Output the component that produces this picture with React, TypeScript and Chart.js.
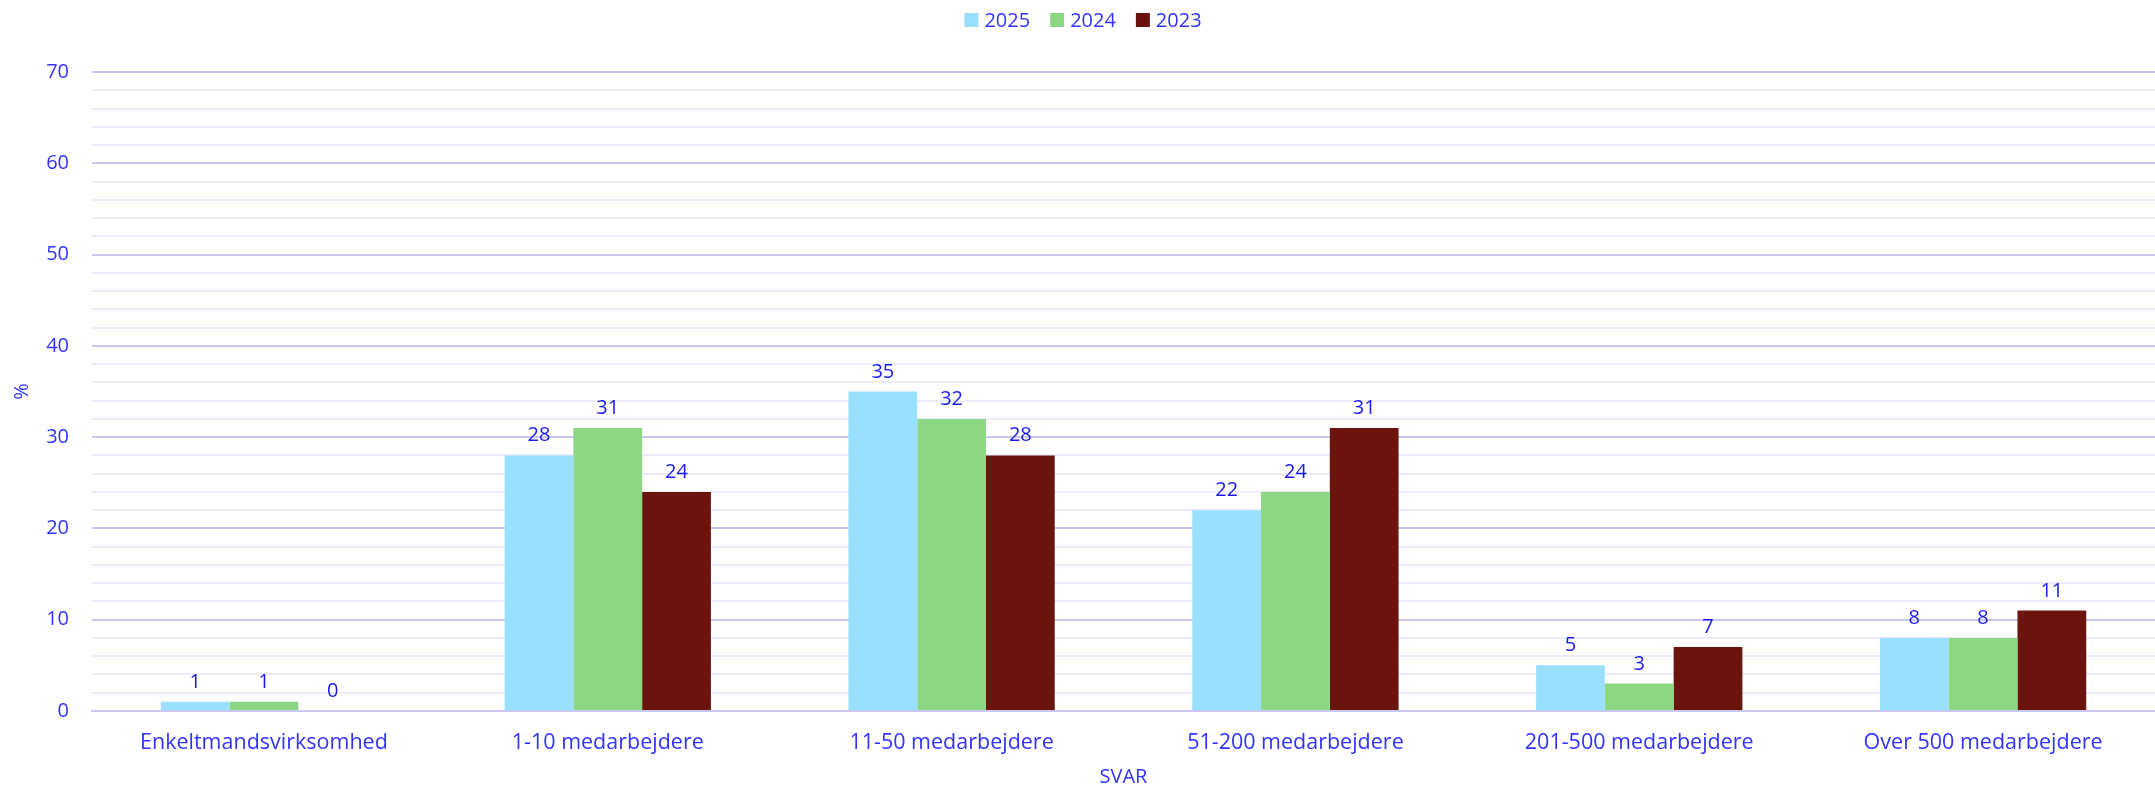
import React, { useEffect, useRef } from "react";
import { Chart, registerables } from "chart.js";

Chart.register(...registerables);

const categories = [
  "Enkeltmandsvirksomhed",
  "1-10 medarbejdere",
  "11-50 medarbejdere",
  "51-200 medarbejdere",
  "201-500 medarbejdere",
  "Over 500 medarbejdere",
];
const values2025 = [1, 28, 35, 22, 5, 8];
const values2024 = [1, 31, 32, 24, 3, 8];
const values2023 = [0, 24, 28, 31, 7, 11];
const seriesLabels = ["2025", "2024", "2023"];
const seriesColors = ["#99e0ff", "#8dd784", "#6b140d"];

const FONT = "'Open Sans', sans-serif";
const TEXT = "#3333ff";

const valueLabels = {
  id: "valueLabels",
  afterDatasetsDraw(chart: any) {
    const ctx = chart.ctx;
    ctx.save();
    ctx.font = `20px ${FONT}`;
    ctx.fillStyle = "#1a1aee";
    ctx.textAlign = "center";
    ctx.textBaseline = "alphabetic";
    chart.data.datasets.forEach((ds: any, i: number) => {
      const meta = chart.getDatasetMeta(i);
      meta.data.forEach((bar: any, j: number) => {
        ctx.fillText(String(ds.data[j]), bar.x, bar.y - 14);
      });
    });
    ctx.restore();
  },
};

const topLegend = {
  id: "topLegend",
  afterDraw(chart: any) {
    const ctx = chart.ctx;
    ctx.save();
    ctx.font = `20px ${FONT}`;
    ctx.textBaseline = "middle";
    ctx.textAlign = "left";
    const box = 14, gapText = 6, gapItem = 20;
    const widths = seriesLabels.map((l) => box + gapText + ctx.measureText(l).width);
    const total = widths.reduce((a, b) => a + b, 0) + gapItem * (seriesLabels.length - 1);
    let x = 1083 - total / 2;
    const cy = 20;
    seriesLabels.forEach((l, i) => {
      ctx.fillStyle = seriesColors[i];
      ctx.fillRect(x, cy - box / 2, box, box);
      ctx.fillStyle = TEXT;
      ctx.fillText(l, x + box + gapText, cy + 1);
      x += widths[i] + gapItem;
    });
    ctx.restore();
  },
};

export default function App() {
  const ref = useRef<HTMLCanvasElement>(null);
  useEffect(() => {
    document.body.style.margin = "0";
    const chart = new Chart(ref.current!, {
      type: "bar",
      data: {
        labels: categories,
        datasets: [values2025, values2024, values2023].map((d, i) => ({
          label: seriesLabels[i],
          data: d,
          backgroundColor: seriesColors[i],
          categoryPercentage: 0.6,
          barPercentage: 1.0,
        })),
      },
      options: {
        animation: false,
        responsive: false,
        maintainAspectRatio: false,
        layout: { padding: { top: 72, right: 0, left: 0, bottom: 0 } },
        plugins: {
          legend: { display: false },
          tooltip: { enabled: false },
        },
        scales: {
          x: {
            grid: { display: false, drawTicks: false },
            border: { color: "#c8c8f0", width: 2 },
            ticks: {
              font: { family: FONT, size: 21.5 },
              color: TEXT,
              padding: 19,
            },
            title: {
              display: true,
              text: "SVAR",
              font: { family: FONT, size: 20 },
              color: TEXT,
              padding: { top: 0, bottom: 0 },
            },
            afterFit: (s: any) => {
              s.height = 78;
            },
          },
          y: {
            min: 0,
            max: 70,
            grid: {
              drawTicks: false,
              color: (c: any) =>
                c.tick && c.tick.value % 10 === 0 ? "#c8c8f2" : "#ececfb",
              lineWidth: 2,
            },
            border: { display: false },
            ticks: {
              stepSize: 2,
              font: { family: FONT, size: 20 },
              color: TEXT,
              padding: 23,
              autoSkip: false,
              callback: (v: any) => (Number(v) % 10 === 0 ? String(v) : ""),
            },
            title: {
              display: true,
              text: "%",
              font: { family: FONT, size: 20 },
              color: TEXT,
              padding: { top: 10, bottom: 0 },
            },
            afterFit: (s: any) => {
              s.width = 92;
            },
          },
        },
      },
      plugins: [valueLabels, topLegend],
    });
    return () => chart.destroy();
  }, []);
  return (
    <div style={{ position: "absolute", left: 0, top: 0, width: 2155, height: 789, background: "#fff" }}>
      <canvas ref={ref} width={2155} height={789} />
    </div>
  );
}
